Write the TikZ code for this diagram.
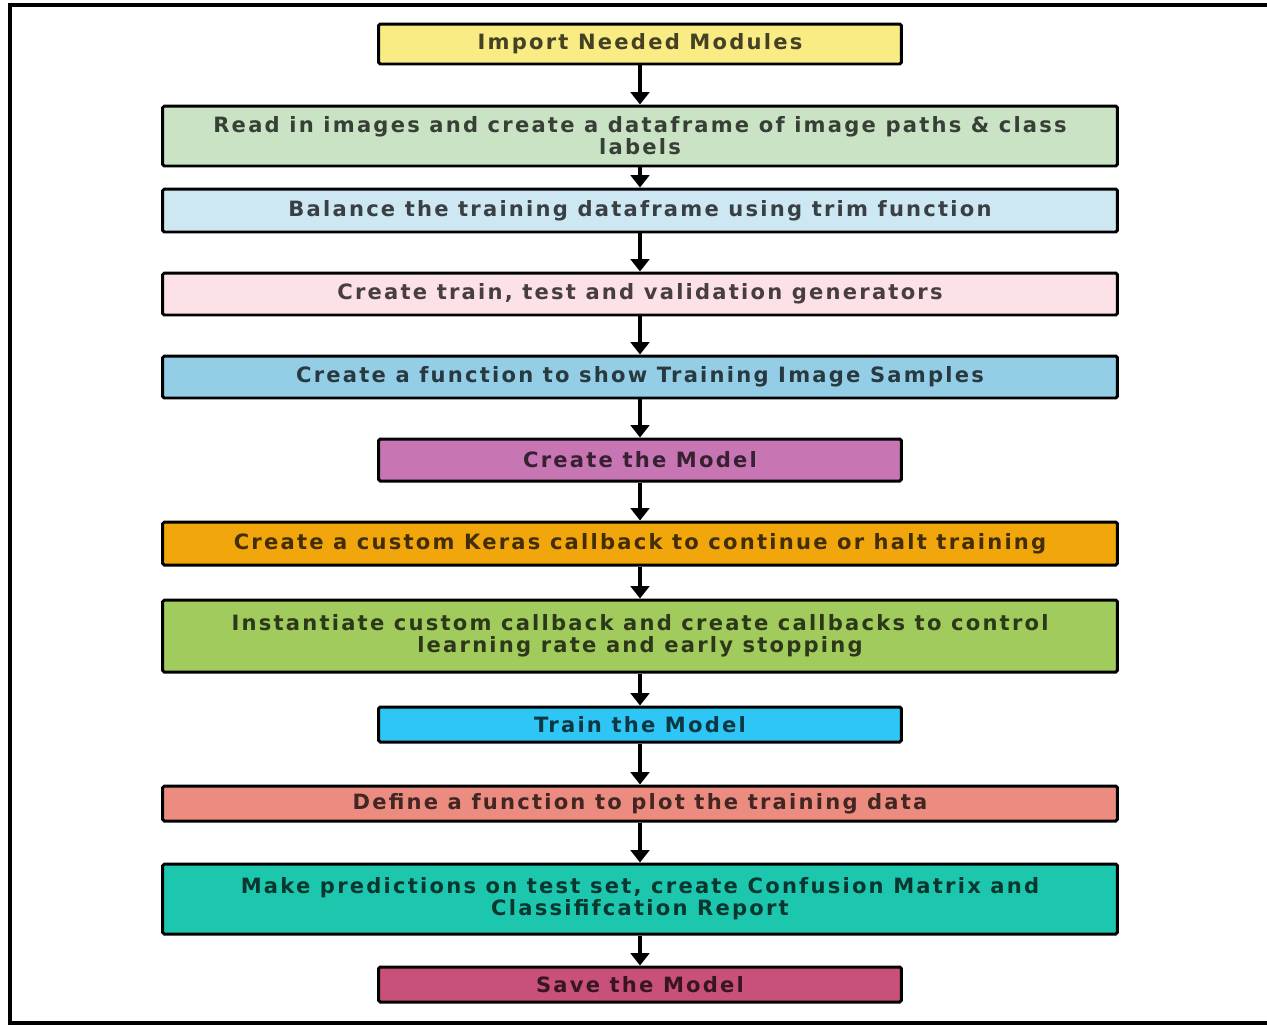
\documentclass[tikz,border=0pt]{standalone}
\usepackage{fontspec}
\newfontfamily\boxfont[LetterSpace=10.5]{DejaVu Sans}
\usetikzlibrary{positioning,arrows.meta}
\definecolor{cImport}{HTML}{F9EC84}
\definecolor{cRead}{HTML}{C9E3C4}
\definecolor{cBalance}{HTML}{CDE8F3}
\definecolor{cSplit}{HTML}{FCE1E7}
\definecolor{cSamples}{HTML}{93CEE6}
\definecolor{cModel}{HTML}{C775B3}
\definecolor{cKeras}{HTML}{F1A60C}
\definecolor{cCallbk}{HTML}{A1CB5C}
\definecolor{cTrain}{HTML}{2EC6F4}
\definecolor{cPlot}{HTML}{EC8C80}
\definecolor{cPredict}{HTML}{1DC7AE}
\definecolor{cSave}{HTML}{C9507A}

\begin{document}
\begin{tikzpicture}[
  x=0.02cm, y=-0.02cm,
  every node/.style={font=\boxfont\bfseries\fontsize{12pt}{12.5pt}\selectfont,text=black,text opacity=0.72},
  stepbox/.style={draw=black, line width=1.7pt, rounded corners=1pt, align=center, inner sep=0pt},
  widebox/.style={stepbox, minimum width=19.1cm},
  shortbox/.style={stepbox, minimum width=10.46cm},
  flow/.style={line width=1.8pt, -{Triangle[width=10.5pt,length=7pt]}}
]
\useasboundingbox (0,0) rectangle (1267,1025);
% outer frame, open on the right
\draw[line width=2.2pt] (1267,5) -- (10,5) -- (10,1023) -- (1267,1023);

% steps
\node[shortbox, fill=cImport, minimum height=0.8cm] (imp) at (640,44) {Import Needed Modules};
\node[widebox, fill=cRead, minimum height=1.2cm] (read) at (640,136)
  {Read in images and create a dataframe of image paths \& class\\labels};
\node[widebox, fill=cBalance, minimum height=0.86cm] (bal) at (640,210.5)
  {Balance the training dataframe using trim function};
\node[widebox, fill=cSplit, minimum height=0.84cm] (gen) at (640,294)
  {Create train, test and validation generators};
\node[widebox, fill=cSamples, minimum height=0.84cm] (show) at (640,377)
  {Create a function to show Training Image Samples};
\node[shortbox, fill=cModel, minimum height=0.84cm] (model) at (640,460) {Create the Model};
\node[widebox, fill=cKeras, minimum height=0.86cm] (keras) at (640,543.5)
  {Create a custom Keras callback to continue or halt training};
\node[widebox, fill=cCallbk, minimum height=1.44cm] (inst) at (640,636)
  {Instantiate custom callback and create callbacks to control\\learning rate and early stopping};
\node[shortbox, fill=cTrain, minimum height=0.7cm] (train) at (640,724.5) {Train the Model};
\node[widebox, fill=cPlot, minimum height=0.7cm] (plot) at (640,803.5)
  {Define a function to plot the training data};
\node[widebox, fill=cPredict, minimum height=1.4cm] (pred) at (640,899)
  {Make predictions on test set, create Confusion Matrix and\\Classififcation Report};
\node[shortbox, fill=cSave, minimum height=0.7cm] (save) at (640,984.5) {Save the Model};

% arrows
\foreach \a/\b in {imp/read,read/bal,bal/gen,gen/show,show/model,model/keras,
                   keras/inst,inst/train,train/plot,plot/pred,pred/save}
  \draw[flow] (\a.south) -- (\b.north);
\end{tikzpicture}
\end{document}
